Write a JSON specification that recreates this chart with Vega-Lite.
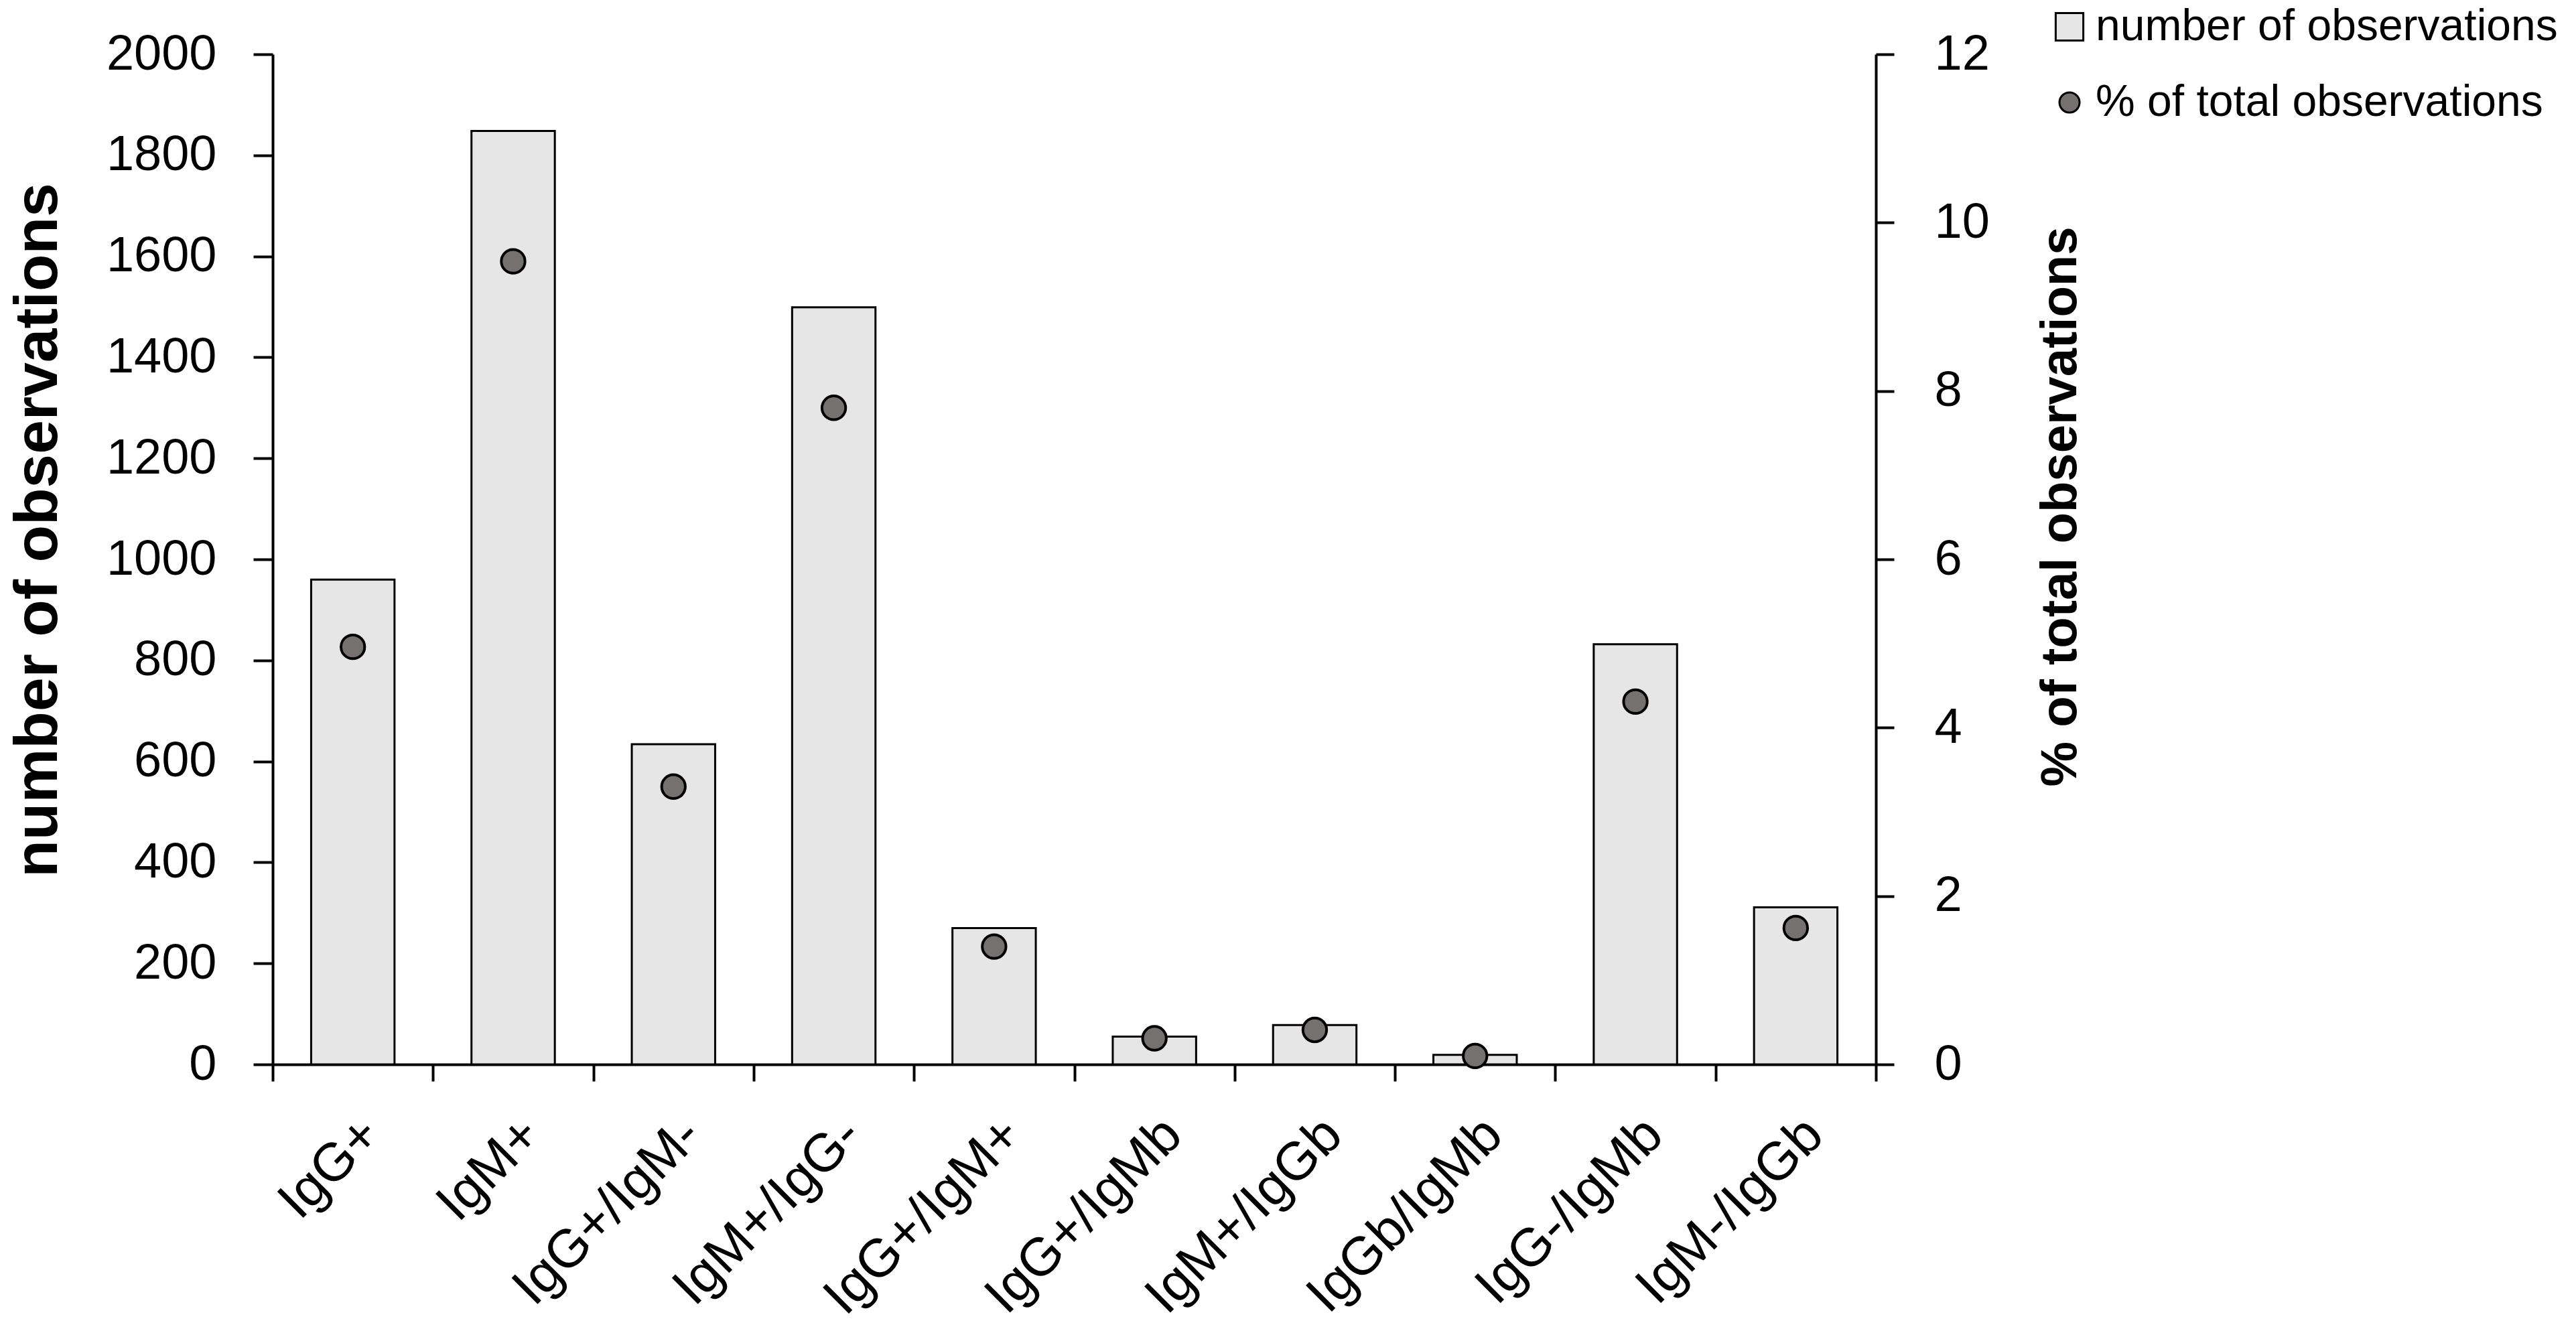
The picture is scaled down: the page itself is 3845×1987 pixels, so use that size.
{
  "$schema": "https://vega.github.io/schema/vega-lite/v6.json",
  "width": 2393,
  "height": 1508,
  "autosize": {"type": "none"},
  "padding": {"left": 407, "top": 81, "right": 1045, "bottom": 398},
  "background": "white",
  "config": {
    "view": {"stroke": null},
    "font": "Liberation Sans",
    "axis": {
      "grid": false,
      "domainColor": "black",
      "domainWidth": 4,
      "tickColor": "black",
      "tickWidth": 4,
      "labelColor": "black",
      "labelFont": "Liberation Sans",
      "labelFontSize": 74,
      "labelLimit": 0,
      "titleColor": "black",
      "titleFont": "Liberation Sans",
      "titleFontWeight": "bold"
    },
    "legend": {
      "orient": "none",
      "legendX": 2649,
      "legendY": -74,
      "title": null,
      "padding": 0,
      "labelFont": "Liberation Sans",
      "labelFontSize": 66,
      "labelColor": "black",
      "labelLimit": 0,
      "labelOffset": 6,
      "symbolSize": 1300,
      "symbolStrokeColor": "black",
      "symbolStrokeWidth": 3,
      "rowPadding": 47
    }
  },
  "data": {
    "values": [
      {"group": "IgG+", "count": 960, "pct": 4.96},
      {"group": "IgM+", "count": 1848, "pct": 9.54},
      {"group": "IgG+/IgM-", "count": 634, "pct": 3.3},
      {"group": "IgM+/IgG-", "count": 1499, "pct": 7.8},
      {"group": "IgG+/IgM+", "count": 270, "pct": 1.4},
      {"group": "IgG+/IgMb", "count": 55, "pct": 0.31},
      {"group": "IgM+/IgGb", "count": 78, "pct": 0.41},
      {"group": "IgGb/IgMb", "count": 19, "pct": 0.1},
      {"group": "IgG-/IgMb", "count": 832, "pct": 4.31},
      {"group": "IgM-/IgGb", "count": 311, "pct": 1.62}
    ]
  },
  "encoding": {
    "x": {
      "field": "group",
      "type": "nominal",
      "sort": null,
      "scale": {"paddingInner": 0, "paddingOuter": 0},
      "axis": {
        "title": null,
        "labelAngle": -45,
        "labelFontSize": 80,
        "tickBand": "extent",
        "tickSize": 25,
        "labelPadding": 40
      }
    }
  },
  "layer": [
    {
      "mark": {"type": "bar", "width": {"band": 0.52}, "stroke": "black", "strokeWidth": 3},
      "encoding": {
        "y": {
          "field": "count",
          "type": "quantitative",
          "scale": {"domain": [0, 2000], "nice": false},
          "axis": {
            "orient": "left",
            "title": "number of observations",
            "titleFontSize": 91,
            "titleY": 710,
            "format": "d",
            "tickCount": 10,
            "tickSize": 29,
            "labelPadding": 55,
            "titlePadding": 104
          }
        },
        "fill": {
          "datum": "number of observations",
          "type": "nominal",
          "scale": {
            "domain": ["number of observations", "% of total observations"],
            "range": ["#E7E6E6", "#767171"]
          },
          "legend": {
            "encode": {
              "symbols": {
                "update": {
                  "stroke": {"value": "black"},
                  "strokeWidth": {"value": 3},
                  "size": {"signal": "datum.value === 'number of observations' ? 1700 : 900"}
                }
              }
            }
          }
        }
      }
    },
    {
      "mark": {"type": "point", "filled": true, "size": 1250, "stroke": "black", "strokeWidth": 4, "opacity": 1},
      "encoding": {
        "y": {
          "field": "pct",
          "type": "quantitative",
          "scale": {"domain": [0, 12], "nice": false},
          "axis": {
            "orient": "right",
            "title": "% of total observations",
            "titleFontSize": 76,
            "titleAngle": 270,
            "titleY": 675,
            "tickCount": 6,
            "tickSize": 27,
            "labelAlign": "left",
            "labelPadding": 60,
            "titlePadding": 145
          }
        },
        "fill": {"datum": "% of total observations", "type": "nominal"},
        "shape": {
          "datum": "% of total observations",
          "type": "nominal",
          "scale": {
            "domain": ["number of observations", "% of total observations"],
            "range": ["square", "circle"]
          },
          "legend": {
            "encode": {
              "symbols": {
                "update": {
                  "stroke": {"value": "black"},
                  "strokeWidth": {"value": 3},
                  "size": {"signal": "datum.value === 'number of observations' ? 1700 : 900"}
                }
              }
            }
          }
        }
      }
    }
  ],
  "resolve": {"scale": {"y": "independent"}}
}
